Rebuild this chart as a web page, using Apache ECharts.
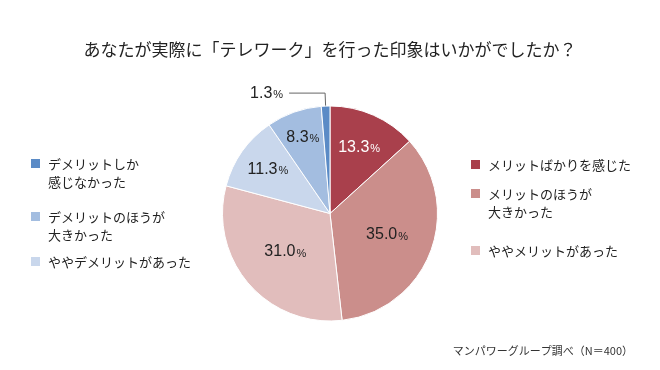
<!DOCTYPE html>
<html>
<head>
<meta charset="utf-8">
<script src="https://cdn.jsdelivr.net/npm/echarts@6/dist/echarts.min.js"></script>
<style>
html,body{margin:0;padding:0;background:#fff;}
#c{width:660px;height:370px;}
</style>
</head>
<body>
<div id="c"></div>
<script>
// ---- data ----
var categories = [
  'メリットばかりを感じた',
  'メリットのほうが\n大きかった',
  'ややメリットがあった',
  'ややデメリットがあった',
  'デメリットのほうが\n大きかった',
  'デメリットしか\n感じなかった'
];
var values = [13.3, 35.0, 31.0, 11.3, 8.3, 1.3];
var titleText = 'あなたが実際に「テレワーク」を行った印象はいかがでしたか？';
var sourceText = 'マンパワーグループ調べ（N＝400）';

// ---- style / layout ----
var colors = ['#A9404C', '#CB8E8B', '#E1BDBC', '#C9D7EC', '#A3BDE0', '#5B8BC6'];
var CX = 330, CY = 213.5, R = 107.5;
var labelRadius = [72, 61, 59, 76, 81, null];
var FONT = '"Noto Sans CJK JP", "Noto Sans", sans-serif';
var legendPos = [
  {left: 471, top: 156},
  {left: 471, top: 185},
  {left: 471, top: 242},
  {left: 31, top: 253},
  {left: 31, top: 208},
  {left: 31, top: 155}
];

var icon2 = 'path://M0,0L0,0M0,4H9V13H0ZM12,36L12,36';
var icon1 = 'path://M0,0L0,0M0,4H9V13H0ZM12,18L12,18';

var legends = categories.map(function (name, i) {
  var two = name.indexOf('\n') >= 0;
  return {
    data: [{name: name, icon: two ? icon2 : icon1}],
    left: legendPos[i].left,
    top: legendPos[i].top,
    padding: 0,
    itemWidth: 12,
    itemHeight: two ? 36 : 18,
    selectedMode: false,
    itemStyle: {borderWidth: 0, borderColor: 'transparent'},
    textStyle: {fontSize: 13, lineHeight: 18, color: '#222', fontFamily: FONT}
  };
});

var data = categories.map(function (name, i) {
  var d = {name: name, value: values[i], itemStyle: {color: colors[i]}};
  if (i === 0) {
    d.label = {rich: {v: {color: '#fff'}, p: {color: '#fff'}}};
  }
  if (i === 5) {
    d.label = {position: 'outside', distanceToLabelLine: 6};
    d.labelLine = {show: true, length: 13, length2: 36, lineStyle: {color: '#666', width: 1}};
  }
  return d;
});

var chart = echarts.init(document.getElementById('c'), null, {renderer: 'canvas'});
chart.setOption({
  animation: false,
  backgroundColor: '#fff',
  color: colors,
  title: [
    {text: titleText, left: 'center', top: 35,
     textStyle: {fontSize: 17, fontWeight: 'normal', color: '#222', fontFamily: FONT, lineHeight: 20}},
    {text: sourceText, right: 22, top: 339,
     textStyle: {fontSize: 11, fontWeight: 'normal', color: '#333', fontFamily: FONT, lineHeight: 14}}
  ],
  legend: legends,
  series: [{
    type: 'pie',
    center: [CX, CY],
    radius: [0, R],
    startAngle: 90,
    clockwise: true,
    avoidLabelOverlap: false,
    minShowLabelAngle: 0,
    itemStyle: {borderColor: '#fff', borderWidth: 1},
    emphasis: {disabled: true},
    label: {
      show: true,
      position: 'inside',
      formatter: function (p) { return '{v|' + p.value.toFixed(1) + '}{p|%}'; },
      rich: {
        v: {fontSize: 16, color: '#222', fontFamily: 'Liberation Sans, Arial, sans-serif'},
        p: {fontSize: 11, color: '#222', fontFamily: 'Liberation Sans, Arial, sans-serif', padding: [3, 0, 0, 1]}
      }
    },
    labelLine: {show: false},
    labelLayout: function (p) {
      var d = labelRadius[p.dataIndex];
      if (d == null) return {};
      var r = p.labelRect;
      var lx = r.x + r.width / 2, ly = r.y + r.height / 2;
      var vx = lx - CX, vy = ly - CY;
      var len = Math.sqrt(vx * vx + vy * vy) || 1;
      return {x: CX + vx * d / len, y: CY + vy * d / len};
    },
    data: data
  }]
});
</script>
</body>
</html>
